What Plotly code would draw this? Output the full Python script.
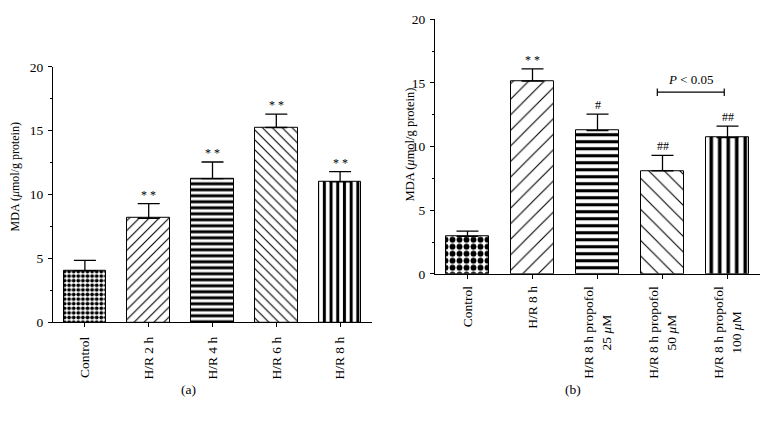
import plotly.graph_objects as go

# ---- data ----
groups_a = ["Control", "H/R 2 h", "H/R 4 h", "H/R 6 h", "H/R 8 h"]
mda_a = [4.05, 8.15, 11.25, 15.25, 11.0]
sd_a = [0.8, 1.15, 1.3, 1.05, 0.8]
sig_a = ["", "* *", "* *", "* *", "* *"]

groups_b = ["Control", "H/R 8 h", "H/R 8 h propofol<br>25 <i>μ</i>M",
            "H/R 8 h propofol<br>50 <i>μ</i>M", "H/R 8 h propofol<br>100 <i>μ</i>M"]
mda_b = [2.95, 15.15, 11.25, 8.1, 10.7]
sd_b = [0.4, 0.95, 1.3, 1.2, 0.9]
sig_b = ["", "* *", "#", "##", "##"]

bracket_b = [2.92, 3.95]
bracket_y = 14.27
bracket_label = "<i>P</i> &lt; 0.05"

# ---- styles ----
SERIF = "Liberation Serif"
W, H = 769, 422
shapes_a = [".", "/", "-", "\\", "|"]
sizes_a = [4.6, 7, 6, 7, 6.7]
solid_a = [0.55, 0.16, 0.5, 0.16, 0.45]
shapes_b = [".", "/", "-", "\\", "|"]
sizes_b = [7, 11, 7, 11, 8.5]
solid_b = [0.55, 0.1, 0.45, 0.1, 0.42]
TICK_SIZE = 13.5

def px_x(p):
    return p / W

def px_y(p):
    return (H - p) / H

fig = go.Figure()

def add_bars(x, y, err, shp, siz, sol, xa, ya):
    fig.add_trace(go.Bar(
        x=list(range(len(x))), y=y, width=0.67,
        xaxis=xa, yaxis=ya,
        marker=dict(color="white", line=dict(color="black", width=1),
                    pattern=dict(shape=shp, size=siz, solidity=sol,
                                 fgcolor="black", bgcolor="white", fillmode="replace")),
        error_y=dict(type="data", array=err, arrayminus=[0] * len(err), symmetric=False,
                     color="black", thickness=1.3, width=11),
        showlegend=False, hoverinfo="skip"))

add_bars(groups_a, mda_a, sd_a, shapes_a, sizes_a, solid_a, "x", "y")
add_bars(groups_b, mda_b, sd_b, shapes_b, sizes_b, solid_b, "x2", "y2")

axis_common = dict(showline=True, linecolor="black", linewidth=1, showgrid=False,
                   zeroline=False, ticks="outside", tickcolor="black", ticklen=4,
                   tickwidth=1, tickfont=dict(family=SERIF, size=TICK_SIZE, color="black"))

fig.update_layout(
    width=W, height=H, margin=dict(l=0, r=0, t=0, b=0),
    paper_bgcolor="white", plot_bgcolor="white", bargap=0,
    xaxis=dict(domain=[px_x(53), px_x(372)], range=[-0.5, 4.5], anchor="y",
               tickmode="array", tickvals=list(range(5)), ticktext=groups_a,
               tickangle=-90, ticklabelstandoff=4, **axis_common),
    yaxis=dict(domain=[px_y(327), px_y(62)], range=[0, 20], anchor="x",
               tickmode="linear", tick0=0, dtick=5, ticklabelstandoff=2,
               minor=dict(ticks="outside", dtick=2.5, ticklen=2.5, tickcolor="black"),
               **axis_common),
    xaxis2=dict(domain=[px_x(435), px_x(760)], range=[-0.5, 4.5], anchor="y2",
                tickmode="array", tickvals=list(range(5)), showticklabels=False,
                **axis_common),
    yaxis2=dict(domain=[px_y(276.7), px_y(12.7)], range=[0, 20], anchor="x2",
                tickmode="linear", tick0=0, dtick=5, ticklabelstandoff=2,
                minor=dict(ticks="outside", dtick=2.5, ticklen=2.5, tickcolor="black"),
                **axis_common),
)

ann = []
# significance marks
for i, (v, e, s) in enumerate(zip(mda_a, sd_a, sig_a)):
    if s:
        ann.append(dict(x=i, y=v + e, xref="x", yref="y", text=s, showarrow=False,
                        yanchor="bottom", xanchor="center", yshift=0,
                        font=dict(family=SERIF, size=12, color="black")))
for i, (v, e, s) in enumerate(zip(mda_b, sd_b, sig_b)):
    if s:
        ann.append(dict(x=i, y=v + e, xref="x2", yref="y2", text=s, showarrow=False,
                        yanchor="bottom", xanchor="center", yshift=0,
                        font=dict(family=SERIF, size=12, color="black")))
# right-panel category labels (centered multi-line)
for i, g in enumerate(groups_b):
    ann.append(dict(x=i, y=px_y(276.7), xref="x2", yref="paper", text=g,
                    showarrow=False, textangle=-90, yanchor="top", xanchor="center",
                    yshift=-10, align="center",
                    font=dict(family=SERIF, size=TICK_SIZE, color="black")))
# bracket label
ann.append(dict(x=sum(bracket_b) / 2, y=bracket_y, xref="x2", yref="y2",
                text=bracket_label, showarrow=False, yanchor="bottom", xanchor="center",
                yshift=3, font=dict(family=SERIF, size=13, color="black")))
# axis titles
ytitle = "MDA (<i>μ</i>mol/g protein)"
ann.append(dict(x=px_x(15), y=px_y(176.7), xref="paper", yref="paper", text=ytitle,
                xanchor="center", yanchor="middle",
                showarrow=False, textangle=-90, font=dict(family=SERIF, size=12, color="black")))
ann.append(dict(x=px_x(410), y=px_y(142.5), xref="paper", yref="paper", text=ytitle,
                xanchor="center", yanchor="middle",
                showarrow=False, textangle=-90, font=dict(family=SERIF, size=12.5, color="black")))
# panel labels
ann.append(dict(x=px_x(188), y=px_y(397), xref="paper", yref="paper", text="(a)",
                xanchor="center", yanchor="middle",
                showarrow=False, font=dict(family=SERIF, size=13.5, color="black")))
ann.append(dict(x=px_x(573), y=px_y(397), xref="paper", yref="paper", text="(b)",
                xanchor="center", yanchor="middle",
                showarrow=False, font=dict(family=SERIF, size=13.5, color="black")))

fig.update_layout(annotations=ann)

# bracket shapes
shp = [dict(type="line", xref="x2", yref="y2", x0=bracket_b[0], x1=bracket_b[1],
            y0=bracket_y, y1=bracket_y, line=dict(color="black", width=1.2))]
for xb in bracket_b:
    shp.append(dict(type="line", xref="x2", yref="y2", x0=xb, x1=xb,
                    y0=bracket_y - 0.3, y1=bracket_y + 0.3, line=dict(color="black", width=1.2)))
fig.update_layout(shapes=shp)

fig.write_html("out.html", config={"displayModeBar": False},
               post_script="document.body.style.margin='0';document.body.style.overflow='hidden';")
